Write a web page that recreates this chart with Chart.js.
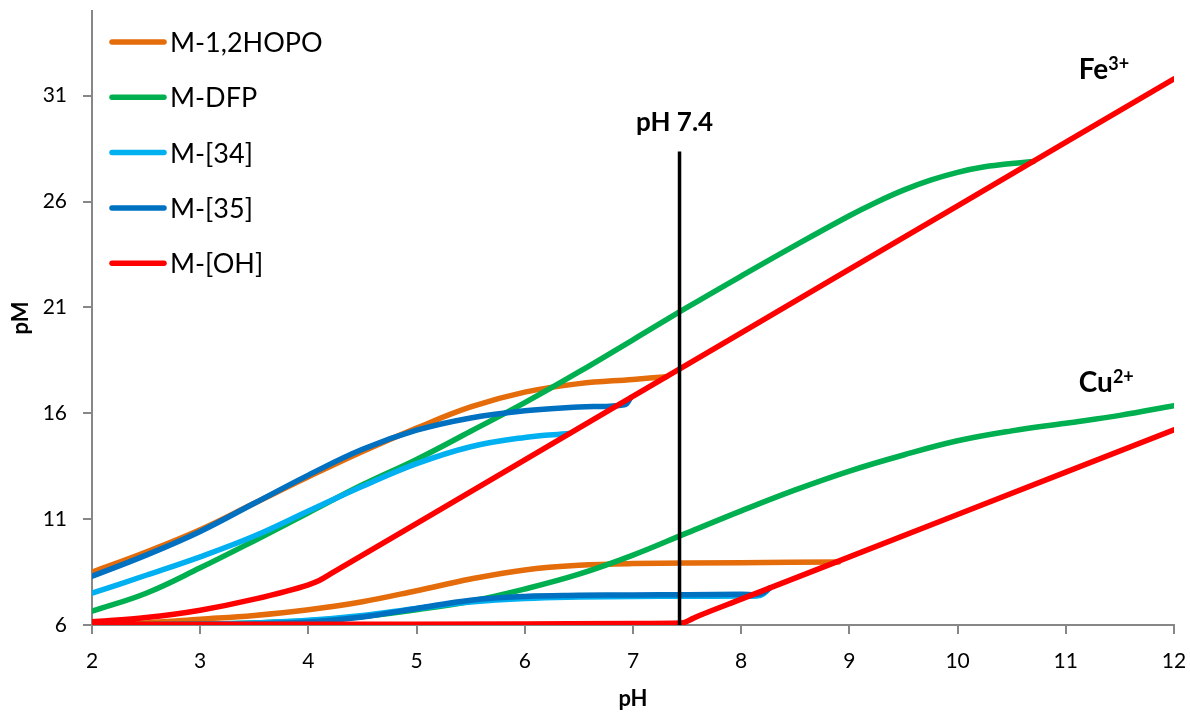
<!DOCTYPE html>
<html>
<head>
<meta charset="utf-8">
<script src="https://cdn.jsdelivr.net/npm/chart.js@4.4.0/dist/chart.umd.min.js"></script>
<style>
  body { margin: 0; background: #fff; }
  canvas { display: block; }
</style>
</head>
<body>
<canvas id="pmChart" width="1190" height="712"></canvas>
<script>
// pM vs pH, [pH, pM] pairs; upper curve of each ligand is Fe3+, lower is Cu2+
const pmTicks = [6, 11, 16, 21, 26, 31];

const hopoFe = [[2,8.5],[2.5,9.45],[3,10.5],[3.5,11.75],[4,13.0],[4.5,14.2],[5,15.3],[5.5,16.3],[6,17.0],[6.5,17.4],[7,17.6],[7.31,17.73]];
const hopoCu = [[2,6.02],[2.5,6.1],[3,6.27],[3.5,6.45],[4,6.72],[4.5,7.1],[5,7.62],[5.5,8.17],[6,8.6],[6.5,8.82],[7,8.9],[8,8.94],[8.9,8.98]];

const dfpFe = [[2,6.65],[2.5,7.5],[3,8.7],[3.5,9.98],[4,11.3],[4.5,12.62],[5,13.82],[5.5,15.15],[6,16.5],[6.5,17.95],[7,19.47],[7.5,21.0],[8,22.48],[8.5,23.93],[9,25.33],[9.25,25.97],[9.5,26.54],[9.75,27.01],[10,27.38],[10.25,27.64],[10.5,27.8],[10.7,27.89]];
const dfpCu = [[2,6.0],[2.5,6.02],[3,6.05],[3.5,6.1],[4,6.2],[4.5,6.4],[5,6.72],[5.5,7.12],[6,7.7],[6.5,8.4],[7,9.3],[7.5,10.35],[8,11.39],[8.5,12.38],[9,13.27],[9.5,14.03],[10,14.7],[10.5,15.17],[11,15.53],[11.5,15.9],[12,16.36]];

const l34Fe = [[2,7.5],[2.5,8.35],[3,9.22],[3.5,10.2],[4,11.38],[4.5,12.55],[5,13.62],[5.5,14.42],[6,14.86],[6.41,15.05]];
const l34Cu = [[2,6.0],[3,6.04],[3.5,6.1],[4,6.22],[4.5,6.45],[5,6.78],[5.5,7.08],[6,7.25],[6.5,7.32],[7,7.35],[7.5,7.36],[8,7.37],[8.18,7.4],[8.26,7.72]];

const l35Fe = [[2,8.3],[2.5,9.3],[3,10.42],[3.5,11.75],[4,13.08],[4.5,14.3],[5,15.2],[5.5,15.78],[6,16.12],[6.5,16.3],[6.92,16.4],[6.98,16.74]];
const l35Cu = [[2,6.0],[3,6.02],[3.5,6.05],[4,6.14],[4.5,6.38],[5,6.78],[5.5,7.17],[6,7.35],[6.5,7.4],[7,7.42],[7.5,7.43],[8,7.45],[8.18,7.47],[8.26,7.74]];

const ohFe = [[2,6.15],[2.5,6.35],[3,6.7],[3.5,7.22],[4,7.9],[4.1,8.1],[4.2,8.4],[6,13.8],[8,19.8],[10,25.8],[12,31.8]];
const ohCu = [[2,6.04],[3,6.04],[4,6.04],[5,6.04],[6,6.05],[7,6.07],[7.45,6.09],[7.55,6.3],[7.62,6.46],[8,7.22],[10,11.22],[12,15.22]];

// physiological pH marker
const phMarker = [[7.43,6],[7.43,28.36]];

const ionLabels = [
  { text: 'Fe', sup: '3+', ph: 11.12, pm: 31.8 },
  { text: 'Cu', sup: '2+', ph: 11.12, pm: 17.0 }
];

const toXY = pts => pts.map(([x, y]) => ({ x: x, y: y }));
// Fe and Cu curves of one ligand in a single dataset, split by a gap
const joined = (fe, cu) => toXY(fe).concat([{ x: null, y: null }], toXY(cu));

const axisGrey = '#878787';
const FONT = 'Lato';

function series(label, color, fe, cu, order, smooth) {
  const ds = {
    label: label,
    data: joined(fe, cu),
    borderColor: color,
    backgroundColor: color,
    borderWidth: 5.5,
    borderCapStyle: 'round',
    borderJoinStyle: 'round',
    pointRadius: 0,
    fill: false,
    order: order
  };
  if (smooth) ds.tension = 0.4;
  else ds.cubicInterpolationMode = 'monotone';
  return ds;
}

const legendBox = {
  id: 'legendBox',
  afterDraw(chart) {
    const ctx = chart.ctx;
    const items = chart.data.datasets.filter(d => d.label);
    ctx.save();
    ctx.font = '27px ' + FONT;
    ctx.lineCap = 'round';
    ctx.textBaseline = 'alphabetic';
    items.forEach((d, i) => {
      const y = 42 + i * 55.3;
      ctx.strokeStyle = d.borderColor;
      ctx.lineWidth = 5.5;
      ctx.beginPath();
      ctx.moveTo(112, y);
      ctx.lineTo(164, y);
      ctx.stroke();
      ctx.fillStyle = '#000';
      ctx.fillText(d.label, 170, y + 10);
    });
    ctx.restore();
  }
};

const notes = {
  id: 'notes',
  afterDatasetsDraw(chart) {
    const ctx = chart.ctx;
    const xs = chart.scales.x, ys = chart.scales.y;
    ctx.save();
    ctx.fillStyle = '#000';
    ctx.textBaseline = 'alphabetic';

    ctx.font = 'bold 26px ' + FONT;
    ctx.textAlign = 'center';
    ctx.fillText('pH 7.4', xs.getPixelForValue(7.385), ys.getPixelForValue(29.32));

    ctx.textAlign = 'left';
    ionLabels.forEach(l => {
      const x = xs.getPixelForValue(l.ph);
      const y = ys.getPixelForValue(l.pm);
      ctx.font = 'bold 28px ' + FONT;
      ctx.fillText(l.text, x, y);
      const w = ctx.measureText(l.text).width;
      ctx.font = 'bold 18px ' + FONT;
      ctx.fillText(l.sup, x + w, y - 9);
    });
    ctx.restore();
  }
};

new Chart(document.getElementById('pmChart'), {
  type: 'line',
  data: {
    datasets: [
      series('M-1,2HOPO', '#E46C0A', hopoFe, hopoCu, 5, true),
      series('M-DFP', '#00B050', dfpFe, dfpCu, 4, true),
      series('M-[34]', '#00B0F0', l34Fe, l34Cu, 3, true),
      series('M-[35]', '#0070C0', l35Fe, l35Cu, 2, true),
      series('M-[OH]', '#FF0000', ohFe, ohCu, 1, false),
      {
        data: toXY(phMarker),
        borderColor: '#000',
        borderWidth: 3.5,
        pointRadius: 0,
        tension: 0,
        fill: false,
        order: 0
      }
    ]
  },
  options: {
    responsive: false,
    animation: false,
    layout: { padding: { top: 11, right: 16, left: 0, bottom: 0 } },
    plugins: {
      legend: { display: false },
      tooltip: { enabled: false }
    },
    scales: {
      x: {
        type: 'linear',
        min: 2,
        max: 12,
        ticks: {
          stepSize: 1,
          color: '#000',
          padding: 16.5,
          font: { family: FONT, size: 21, lineHeight: 1 }
        },
        grid: { drawOnChartArea: false, tickLength: 9, color: axisGrey, lineWidth: 2 },
        border: { color: axisGrey, width: 2 },
        title: {
          display: true,
          text: 'pH',
          color: '#000',
          padding: { top: 0, bottom: 0 },
          font: { family: FONT, size: 22, weight: 'bold' }
        },
        afterFit(scale) {
          scale.height = 87;
          scale.paddingLeft = 0;
          scale.paddingRight = 0;
        }
      },
      y: {
        type: 'linear',
        min: 6,
        max: 35,
        afterBuildTicks(scale) {
          scale.ticks = pmTicks.map(v => ({ value: v }));
        },
        ticks: {
          color: '#000',
          padding: 16,
          font: { family: FONT, size: 21, lineHeight: 1 }
        },
        grid: { drawOnChartArea: false, tickLength: 9, color: axisGrey, lineWidth: 2 },
        border: { color: axisGrey, width: 2 },
        title: {
          display: true,
          text: 'pM',
          color: '#000',
          padding: { top: 8, bottom: 0 },
          font: { family: FONT, size: 22, weight: 'bold' }
        },
        afterFit(scale) {
          scale.width = 92;
          scale.paddingTop = 0;
          scale.paddingBottom = 0;
        }
      }
    }
  },
  plugins: [legendBox, notes]
});
</script>
</body>
</html>
